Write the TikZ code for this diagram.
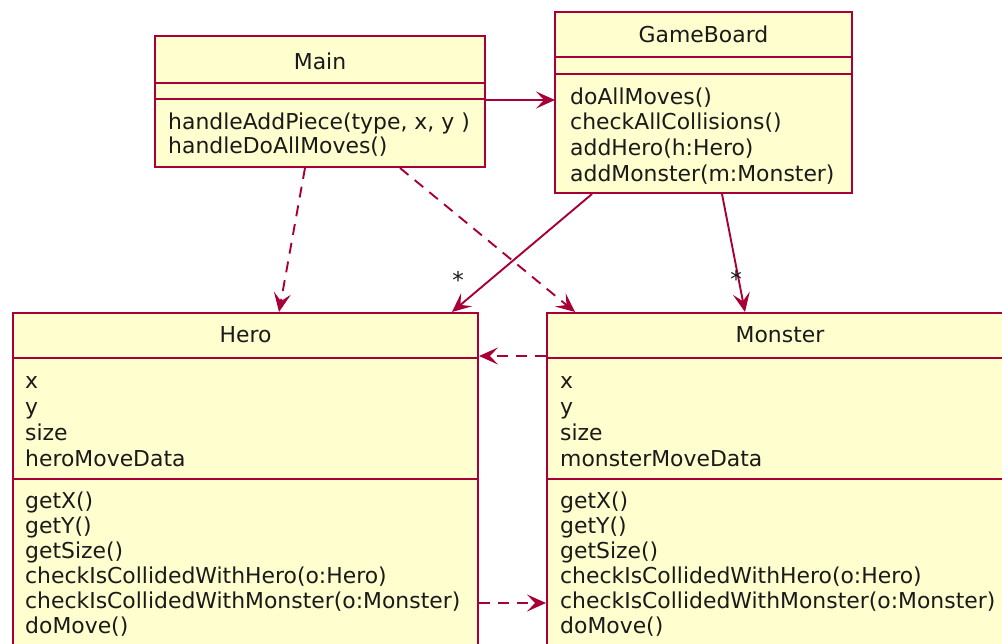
\documentclass[tikz,border=0pt]{standalone}
\usepackage{fontspec}
\setmainfont{DejaVu Sans}
\usetikzlibrary{arrows.meta}
\definecolor{umlborder}{HTML}{A80036}
\definecolor{umlfill}{HTML}{FEFECE}
\definecolor{umltext}{HTML}{1A1A1A}
\begin{document}
\begin{tikzpicture}[x=1pt,y=-1pt,
  box/.style={draw=umlborder, fill=umlfill, line width=2pt, rectangle, inner sep=0pt, outer sep=0pt, anchor=north west},
  sepline/.style={draw=umlborder, line width=2pt},
  txt/.style={anchor=base west, inner sep=0pt, font=\fontsize{21.9}{25.4}\selectfont, text=umltext},
  ttl/.style={anchor=base, inner sep=0pt, font=\fontsize{21.9}{25.4}\selectfont, text=umltext},
  tip/.style={-{Stealth[length=19pt,width=17pt,inset=8pt]}},
  assoc/.style={draw=umlborder, line width=1.9pt, tip},
  dep/.style={draw=umlborder, line width=1.9pt, dash pattern=on 11pt off 8pt, tip},
  mult/.style={inner sep=0pt, font=\fontsize{23}{25.4}\selectfont, text=umltext}]
\useasboundingbox (0,0) rectangle (1002,643);
\fill[white] (0,0) rectangle (1002,643);
\clip (0,0) rectangle (1002,643);

% Main
\node[box, minimum width=330pt, minimum height=131pt] (main) at (155,36) {};
\draw[sepline] (155,83) -- (485,83);
\draw[sepline] (155,99) -- (485,99);
\node[ttl] (mainT) at (320,69) {Main};
\node[txt] (mainM1) at (168,129.5) {handleAddPiece(type, x, y )};
\node[txt] (mainM2) at (168,153.5) {handleDoAllMoves()};

% GameBoard
\node[box, minimum width=297pt, minimum height=181pt] (gb) at (555,12) {};
\draw[sepline] (555,57) -- (852,57);
\draw[sepline] (555,74) -- (852,74);
\node[ttl] (gbT) at (703.5,42.5) {GameBoard};
\foreach \t [count=\i from 0] in {doAllMoves(), checkAllCollisions(), addHero(h:Hero), addMonster(m:Monster)}
  \node[txt] (gbM\i) at (570,{104+25.8*\i}) {\t};

% Hero
\node[box, minimum width=465pt, minimum height=360pt] (hero) at (13,313) {};
\draw[sepline] (13,358) -- (478,358);
\draw[sepline] (13,479) -- (478,479);
\node[ttl] (heroT) at (245.5,342.5) {Hero};
\foreach \t [count=\i from 0] in {x, y, size, heroMoveData}
  \node[txt] (heroA\i) at (25,{388+26*\i}) {\t};
\foreach \t [count=\i from 0] in {getX(), getY(), getSize(), checkIsCollidedWithHero(o:Hero), checkIsCollidedWithMonster(o:Monster), doMove()}
  \node[txt] (heroM\i) at (25,{508+25*\i}) {\t};

% Monster
\node[box, minimum width=466pt, minimum height=360pt] (mon) at (547,313) {};
\draw[sepline] (547,358) -- (1013,358);
\draw[sepline] (547,479) -- (1013,479);
\node[ttl] (monT) at (780,342.5) {Monster};
\foreach \t [count=\i from 0] in {x, y, size, monsterMoveData}
  \node[txt] (monA\i) at (560,{388+26*\i}) {\t};
\foreach \t [count=\i from 0] in {getX(), getY(), getSize(), checkIsCollidedWithHero(o:Hero), checkIsCollidedWithMonster(o:Monster), doMove()}
  \node[txt] (monM\i) at (560,{508+25*\i}) {\t};

% connector end points on the boxes
\coordinate (mainR) at (486,100);
\coordinate (gbL) at (555,100);
\coordinate (mainB1) at (305,168);
\coordinate (heroT1) at (279,312);
\coordinate (mainB2) at (400,168);
\coordinate (monT1) at (575,312);
\coordinate (gbB1) at (592,194);
\coordinate (heroT2) at (452,312);
\coordinate (gbB2) at (722,194);
\coordinate (monT2) at (745,312);
\coordinate (monL1) at (546,356);
\coordinate (heroR1) at (479,356);
\coordinate (heroR2) at (479,603);
\coordinate (monL2) at (546,603);

\draw[assoc] (mainR) -- (gbL);
\draw[dep] (mainB1) -- (heroT1);
\draw[dep] (mainB2) -- (monT1);
\draw[assoc] (gbB1) -- (heroT2);
\draw[assoc] (gbB2) -- (monT2);
\draw[dep] (monL1) -- (heroR1);
\draw[dep] (heroR2) -- (monL2);

\node[mult] (m1) at (458,280) {*};
\node[mult] (m2) at (736,279) {*};
\end{tikzpicture}
\end{document}
